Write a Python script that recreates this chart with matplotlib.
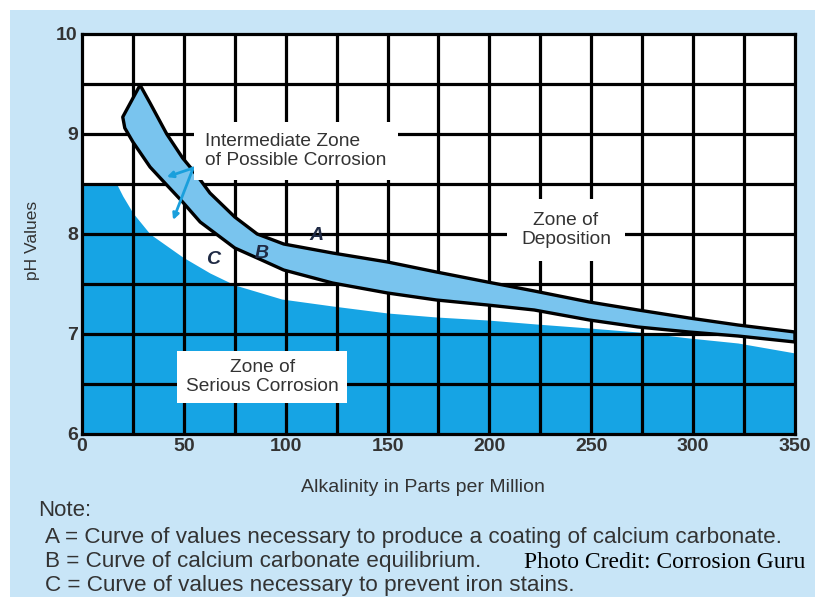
import numpy as np
import matplotlib.pyplot as plt
from matplotlib.patches import Rectangle, Polygon

# curve A (upper edge of the intermediate band)
a_alk = [28.5, 33.4, 41.6, 49.4, 56.3, 62.8, 75, 86, 99, 123, 150, 174, 199, 222, 249, 273, 298, 322, 350]
a_ph = [9.49, 9.31, 9.0, 8.76, 8.59, 8.41, 8.17, 8.0, 7.9, 7.81, 7.72, 7.62, 7.52, 7.43, 7.32, 7.24, 7.16, 7.09, 7.02]

# curve B (lower edge of the intermediate band)
b_alk = [20, 21, 25, 33.4, 41.6, 49.4, 58, 75, 86, 99, 123, 150, 174, 199, 222, 249, 273, 298, 322, 350]
b_ph = [9.17, 9.06, 8.92, 8.67, 8.49, 8.32, 8.12, 7.86, 7.76, 7.64, 7.51, 7.41, 7.34, 7.29, 7.24, 7.14, 7.07, 7.02, 6.98, 6.92]

# curve C (top of the serious corrosion zone)
c_alk = [0, 17, 20, 25, 33.4, 49.4, 62.8, 75, 98, 123, 150, 174, 199, 223, 249, 273, 298, 322, 350]
c_ph = [8.5, 8.5, 8.38, 8.21, 8.0, 7.77, 7.61, 7.49, 7.35, 7.28, 7.21, 7.17, 7.14, 7.10, 7.06, 7.02, 6.96, 6.91, 6.81]

x_ticks = [0, 50, 100, 150, 200, 250, 300, 350]
y_ticks = [6, 7, 8, 9, 10]

notes = [
    "A = Curve of values necessary to produce a coating of calcium carbonate.",
    "B = Curve of calcium carbonate equilibrium.",
    "C = Curve of values necessary to prevent iron stains.",
]

BG = "#c8e5f7"
DARK = "#16a4e4"
BAND = "#79c4ee"
TXT = "#333333"
SANS = ["Liberation Sans", "DejaVu Sans"]

fig = plt.figure(figsize=(8.15, 5.97), dpi=100)
fig.patch.set_facecolor("white")
fig.patches.append(Rectangle((10 / 815, 0), 1, 1 - 10 / 597, transform=fig.transFigure,
                             facecolor=BG, edgecolor="none", zorder=-10))

ax = fig.add_axes([82 / 815, 1 - 434 / 597, 713 / 815, 400 / 597])
ax.set_facecolor("white")
ax.set_xlim(0, 350)
ax.set_ylim(6, 10)

# serious corrosion zone
ax.fill_between(c_alk, 6, c_ph, color=DARK, lw=0, zorder=1)

# grid
for gx in np.arange(25, 350, 25):
    ax.axvline(gx, color="black", lw=2.3, zorder=2)
for gy in np.arange(6.5, 10, 0.5):
    ax.axhline(gy, color="black", lw=2.3, zorder=2)

# intermediate band
band = list(zip(a_alk, a_ph)) + list(zip(b_alk[::-1], b_ph[::-1]))
ax.add_patch(Polygon(band, closed=True, facecolor=BAND, edgecolor="black", lw=2.4,
                     joinstyle="round", zorder=3))

# little blue arrows
for end in [(44.7, 8.14), (41.6, 8.57)]:
    ax.annotate("", xy=end, xytext=(54.6, 8.66),
                arrowprops=dict(arrowstyle="-|>", color="#1a9fdc", lw=2, mutation_scale=9,
                                shrinkA=0, shrinkB=0), zorder=4)

for s in ax.spines.values():
    s.set_linewidth(2.3)
    s.set_zorder(5)

ax.set_xticks(x_ticks)
ax.set_yticks(y_ticks)
ax.tick_params(length=0, pad=3, labelsize=14, labelcolor=TXT)
for lab in ax.get_xticklabels() + ax.get_yticklabels():
    lab.set_fontweight("bold")
    lab.set_family(SANS)

box = dict(facecolor="white", edgecolor="none")
ax.text(60.4, 8.83, "Intermediate Zone\nof Possible Corrosion", ha="left", va="center",
        fontsize=13.8, color=TXT, family=SANS, linespacing=1.1,
        bbox=dict(box, pad=8), zorder=6)
ax.text(237.6, 8.04, "Zone of\nDeposition", ha="center", va="center",
        fontsize=13.8, color=TXT, family=SANS, linespacing=1.1,
        bbox=dict(box, pad=10), zorder=6)
ax.text(88.4, 6.57, "Zone of\nSerious Corrosion", ha="center", va="center",
        fontsize=13.8, color=TXT, family=SANS, linespacing=1.1,
        bbox=dict(box, pad=6), zorder=6)

for lbl, lx, ly in [("A", 114.9, 7.98), ("B", 88.4, 7.81), ("C", 64.3, 7.74)]:
    ax.text(lx, ly, lbl, ha="center", va="center", fontsize=14, fontweight="bold",
            style="italic", color="#1f2a44", family=SANS, zorder=6)

fig.text(32 / 815, 1 - 240 / 597, "pH Values", rotation=90, ha="center", va="center",
         fontsize=12.5, color=TXT, family=SANS)
fig.text(423 / 815, 1 - 488 / 597, "Alkalinity in Parts per Million", ha="center", va="center",
         fontsize=14, color=TXT, family=SANS)
fig.text(38 / 815, 1 - 511 / 597, "Note:", ha="left", va="center",
         fontsize=16, color=TXT, family=SANS)
for i, line in enumerate(notes):
    fig.text(45 / 815, 1 - (538 + 23.5 * i) / 597, line, ha="left", va="center",
             fontsize=16.2, color=TXT, family=SANS)
fig.text(805 / 815, 1 - 562 / 597, "Photo Credit: Corrosion Guru", ha="right", va="center",
         fontsize=17, color="black", family=["Liberation Serif", "DejaVu Serif"])

fig.savefig("out.png", dpi=100)
